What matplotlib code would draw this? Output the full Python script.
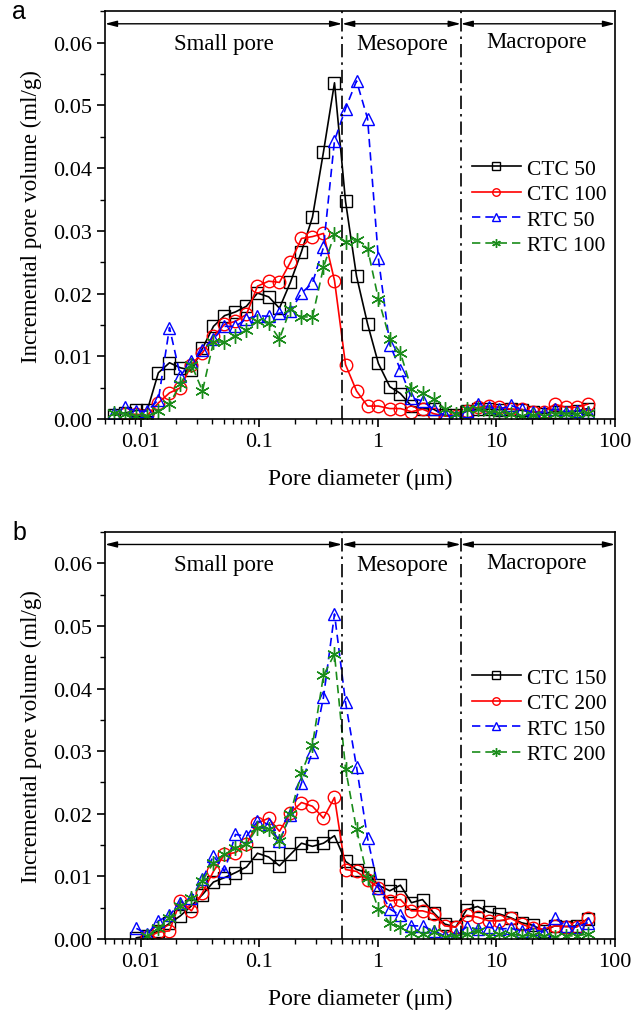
import numpy as np
import matplotlib
matplotlib.use("Agg")
import matplotlib.pyplot as plt
from matplotlib.ticker import MultipleLocator, LogLocator, NullFormatter

plt.rcParams['font.family'] = ['Liberation Serif', 'DejaVu Serif']

nan = np.nan

# pore diameter (um), shared grid of the intrusion steps
diameter = [0.0060, 0.0074, 0.0092, 0.0114, 0.0141, 0.0175, 0.0216, 0.0268, 0.0332, 0.0411,
            0.0509, 0.0630, 0.0780, 0.0966, 0.120, 0.148, 0.183, 0.227, 0.281, 0.348,
            0.431, 0.534, 0.661, 0.819, 1.01, 1.26, 1.55, 1.92, 2.38, 2.95,
            3.66, 4.53, 5.61, 6.94, 8.60, 10.6, 13.2, 16.3, 20.2, 25.0,
            31.0, 38.4, 47.5, 58.9]

# panel a
ctc50 = [0.0006, 0.0010, 0.0014, 0.0015, 0.0074, 0.0090, 0.0082, 0.0078, 0.0113, 0.0148,
         0.0165, 0.0171, 0.0180, 0.0201, 0.0195, 0.0177, 0.0218, 0.0267, 0.0322, 0.0426,
         0.0536, 0.0347, 0.0228, 0.0152, 0.0089, 0.0052, 0.0041, 0.0021, 0.0017, 0.0016,
         0.0006, 0.0006, 0.0013, 0.0016, 0.0016, 0.0015, 0.0016, 0.0014, 0.0012, 0.0009,
         0.0012, 0.0012, 0.0013, 0.0017]
ctc100 = [nan, 0.0008, 0.0008, 0.0006, 0.0026, 0.0042, 0.0050, 0.0087, 0.0106, 0.0132,
          0.0151, 0.0156, 0.0167, 0.0212, 0.0220, 0.0218, 0.0250, 0.0288, 0.0291, 0.0296,
          0.0221, 0.0087, 0.0045, 0.0021, 0.0021, 0.0017, 0.0017, 0.0012, 0.0016, 0.0009,
          0.0005, 0.0005, 0.0013, 0.0019, 0.0021, 0.0019, 0.0016, 0.0016, 0.0012, 0.0011,
          0.0024, 0.0019, 0.0019, 0.0024]
rtc50 = [0.0010, 0.0019, 0.0013, 0.0013, 0.0031, 0.0146, 0.0069, 0.0093, 0.0111, 0.0128,
         0.0148, 0.0148, 0.0160, 0.0165, 0.0164, 0.0169, 0.0172, 0.0201, 0.0217, 0.0274,
         0.0444, 0.0495, 0.0539, 0.0479, 0.0257, 0.0119, 0.0079, 0.0034, 0.0029, 0.0016,
         0.0006, 0.0005, 0.0013, 0.0024, 0.0019, 0.0016, 0.0022, 0.0016, 0.0011, 0.0011,
         0.0016, 0.0012, 0.0013, 0.0012]
rtc100 = [0.0010, 0.0008, 0.0005, 0.0005, 0.0013, 0.0024, 0.0056, 0.0087, 0.0045, 0.0123,
          0.0123, 0.0133, 0.0142, 0.0156, 0.0153, 0.0128, 0.0176, 0.0163, 0.0163, 0.0242,
          0.0295, 0.0283, 0.0286, 0.0272, 0.0192, 0.0128, 0.0106, 0.0048, 0.0042, 0.0032,
          0.0017, 0.0008, 0.0017, 0.0016, 0.0012, 0.0010, 0.0008, 0.0005, 0.0006, 0.0005,
          0.0009, 0.0008, 0.0008, 0.0010]

# panel b
ctc150 = [nan, nan, 0.0002, 0.0005, 0.0013, 0.0025, 0.0037, 0.0053, 0.0071, 0.0091,
          0.0098, 0.0106, 0.0115, 0.0137, 0.0131, 0.0117, 0.0135, 0.0153, 0.0148, 0.0153,
          0.0165, 0.0124, 0.0111, 0.0106, 0.0086, 0.0077, 0.0086, 0.0058, 0.0063, 0.0042,
          0.0024, 0.0019, 0.0047, 0.0052, 0.0043, 0.0040, 0.0034, 0.0026, 0.0022, 0.0013,
          0.0021, 0.0020, 0.0021, 0.0032]
ctc200 = [nan, nan, nan, 0.0003, 0.0011, 0.0013, 0.0061, 0.0045, 0.0074, 0.0108,
          0.0135, 0.0138, 0.0151, 0.0185, 0.0193, 0.0172, 0.0201, 0.0218, 0.0212, 0.0193,
          0.0226, 0.0111, 0.0108, 0.0095, 0.0082, 0.0061, 0.0063, 0.0045, 0.0045, 0.0040,
          0.0021, 0.0019, 0.0038, 0.0035, 0.0029, 0.0029, 0.0033, 0.0024, 0.0017, 0.0016,
          0.0021, 0.0020, 0.0019, 0.0033]
rtc150 = [nan, nan, 0.0017, 0.0008, 0.0029, 0.0038, 0.0058, 0.0066, 0.0096, 0.0133,
          0.0108, 0.0167, 0.0164, 0.0188, 0.0183, 0.0156, 0.0198, 0.0249, 0.0299, 0.0386,
          0.0519, 0.0378, 0.0275, 0.0161, 0.0082, 0.0048, 0.0038, 0.0021, 0.0021, 0.0013,
          0.0005, 0.0008, 0.0019, 0.0016, 0.0019, 0.0016, 0.0017, 0.0013, 0.0016, 0.0011,
          0.0034, 0.0021, 0.0019, 0.0026]
rtc200 = [nan, nan, nan, 0.0005, 0.0017, 0.0033, 0.0053, 0.0065, 0.0093, 0.0122,
          0.0135, 0.0146, 0.0151, 0.0178, 0.0175, 0.0156, 0.0200, 0.0265, 0.0310, 0.0421,
          0.0455, 0.0272, 0.0175, 0.0098, 0.0048, 0.0026, 0.0019, 0.0010, 0.0008, 0.0011,
          0.0003, 0.0005, 0.0008, 0.0013, 0.0005, 0.0008, 0.0008, 0.0005, 0.0006, 0.0005,
          0.0003, 0.0005, 0.0005, 0.0008]

labels_a = ["CTC 50", "CTC 100", "RTC 50", "RTC 100"]
labels_b = ["CTC 150", "CTC 200", "RTC 150", "RTC 200"]
regions = ["Small pore", "Mesopore", "Macropore"]
bounds = [0.005, 0.5, 5, 100]

styles = [
    dict(color='black', ls='-', marker='s', ms=9),
    dict(color='red', ls='-', marker='o', ms=9),
    dict(color='blue', ls=(0, (5, 3)), marker='^', ms=9),
    dict(color='#1a8c1a', ls=(0, (5, 3)), marker=(6, 2, 0), ms=10.5),
]


def draw_panel(ax, series, labels, letter, leg_y):
    x = np.array(diameter)
    for y, lab, st in zip(series, labels, styles):
        ax.plot(x, y, label=lab, lw=1.2, mew=1.0, mfc='none', mec=st['color'], **st)
    ax.set_xscale('log')
    ax.set_xlim(0.005, 100)
    ax.set_ylim(0, 0.065)
    ax.set_xticks([0.01, 0.1, 1, 10, 100])
    ax.set_xticklabels(["0.01", "0.1", "1", "10", "100"])
    ax.xaxis.set_minor_locator(LogLocator(base=10, subs=np.arange(2, 10)))
    ax.xaxis.set_minor_formatter(NullFormatter())
    ax.yaxis.set_minor_locator(MultipleLocator(0.005))
    ax.set_yticks(np.arange(0, 0.061, 0.01))
    ax.set_yticklabels([f"{v:.2f}" for v in np.arange(0, 0.061, 0.01)])
    ax.tick_params(axis='both', which='major', direction='out', length=6, width=1.2,
                   labelsize=16, top=False, right=False)
    ax.tick_params(axis='both', which='minor', direction='out', length=3.5, width=1,
                   top=False, right=False)
    for sp in ax.spines.values():
        sp.set_linewidth(1.2)

    for b in bounds[1:3]:
        ax.axvline(b, color='black', lw=1.2, ls=(0, (8, 3, 1.5, 3)))
    for i in range(3):
        ax.annotate('', xy=(bounds[i], 0.0630), xytext=(bounds[i + 1], 0.0630),
                    arrowprops=dict(arrowstyle='<|-|>,head_length=0.7,head_width=0.18',
                                    color='black', lw=1.0, shrinkA=0, shrinkB=0))
    ax.text(0.05, 0.0598, regions[0], ha='center', va='center', fontsize=16.5)
    ax.text(1.6, 0.0598, regions[1], ha='center', va='center', fontsize=16.5)
    ax.text(22, 0.0602, regions[2], ha='center', va='center', fontsize=16.5)

    ax.set_xlabel("Pore diameter (μm)", fontsize=17, labelpad=12)
    ax.set_ylabel("Incremental pore volume (ml/g)", fontsize=16.5, labelpad=8)
    ax.legend(loc='upper left', bbox_to_anchor=(0.682, leg_y), frameon=False,
              fontsize=15.5, markerscale=0.6, handlelength=2.25, labelspacing=0.25,
              handletextpad=0.3)
    ax.text(-0.182, 1.0, letter, transform=ax.transAxes, fontsize=18,
            family='Liberation Sans', ha='left', va='center')


fig = plt.figure(figsize=(6.44, 10.2), dpi=100)
ax1 = fig.add_axes([0.163, 0.588, 0.792, 0.400])
ax2 = fig.add_axes([0.163, 0.0784, 0.792, 0.3991])
draw_panel(ax1, [ctc50, ctc100, rtc50, rtc100], labels_a, 'a', 0.686)
draw_panel(ax2, [ctc150, ctc200, rtc150, rtc200], labels_b, 'b', 0.714)

fig.savefig("out.png", dpi=100)
